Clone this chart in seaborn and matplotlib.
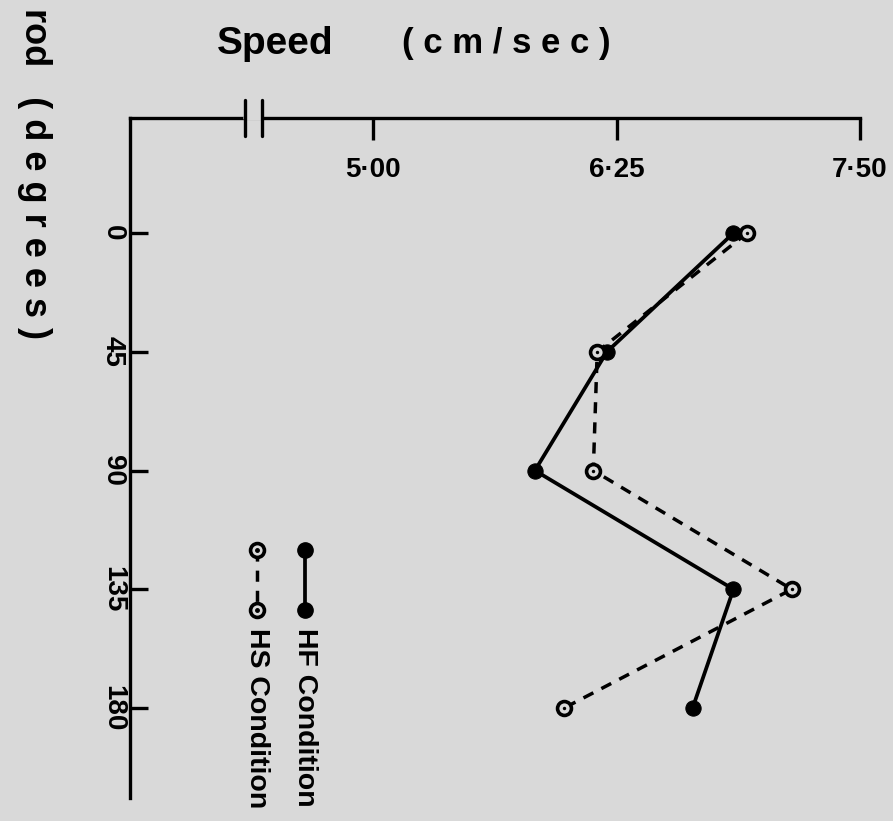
import matplotlib
matplotlib.use("Agg")
import matplotlib.pyplot as plt
import matplotlib.transforms as mtransforms
import seaborn as sns
import pandas as pd

# ---- data ----
angles = [0, 45, 90, 135, 180]
hf_speed = [6.85, 6.20, 5.83, 6.85, 6.64]
hs_speed = [6.92, 6.15, 6.13, 7.15, 5.98]
x_ticks = [5.00, 6.25, 7.50]
x_ticklabels = ["5·00", "6·25", "7·50"]
y_ticklabels = ["0", "45", "90", "135", "180"]
series_names = ["HF Condition", "HS Condition"]

BG = "#d9d9d9"
W, H = 893, 821

sns.set_style("white", {"axes.facecolor": BG, "figure.facecolor": BG})
plt.rcParams["font.family"] = ["Liberation Sans", "DejaVu Sans"]
plt.rcParams["font.weight"] = "bold"
plt.rcParams["text.color"] = "black"
plt.rcParams["xtick.color"] = "black"
plt.rcParams["ytick.color"] = "black"
plt.rcParams["xtick.labelcolor"] = "black"
plt.rcParams["ytick.labelcolor"] = "black"

fig = plt.figure(figsize=(W / 100, H / 100), dpi=100, facecolor=BG)
ax = fig.add_axes([130 / W, 1 - 798 / H, 730 / W, 680 / H])
ax.set_facecolor(BG)

df = pd.DataFrame({
    "angle": angles * 2,
    "speed": hf_speed + hs_speed,
    "cond": [series_names[0]] * len(angles) + [series_names[1]] * len(angles),
})

hf = df[df.cond == series_names[0]]
hs = df[df.cond == series_names[1]]

sns.lineplot(data=hf, x="speed", y="angle", orient="y", sort=False, estimator=None,
             color="black", lw=2.7, marker="o", markersize=11,
             markerfacecolor="black", markeredgecolor="black", ax=ax, legend=False)
sns.lineplot(data=hs, x="speed", y="angle", orient="y", sort=False, estimator=None,
             color="black", lw=2.5, linestyle=(0, (3.2, 2.6)), marker="o", markersize=10,
             markerfacecolor=BG, markeredgecolor="black", markeredgewidth=2.6,
             ax=ax, legend=False)
sns.scatterplot(data=hs, x="speed", y="angle", color="black", s=6, ax=ax,
                legend=False, zorder=5, linewidth=0)

ax.set_xlim(3.75, 7.50)
ax.set_ylim(214.1, -43.6)

for s in ["right", "bottom"]:
    ax.spines[s].set_visible(False)
for s in ["top", "left"]:
    ax.spines[s].set_linewidth(2.4)
    ax.spines[s].set_color("black")

ax.set_xticks(x_ticks)
ax.set_xticklabels(x_ticklabels)
ax.set_yticks(angles)
ax.set_yticklabels(y_ticklabels, rotation=-90, va="center")
ax.tick_params(axis="x", top=True, bottom=False, labeltop=True, labelbottom=False,
               direction="in", length=16, width=2.4, pad=-47, labelsize=20,
               colors="black")
ax.tick_params(axis="y", left=True, right=False, direction="in", length=13,
               width=2.4, pad=3, labelsize=20, colors="black")
for lab in ax.get_xticklabels() + ax.get_yticklabels():
    lab.set_fontweight("bold")
    lab.set_color("black")
ax.set_xlabel("")
ax.set_ylabel("")

# axis break on the top spine
trans = mtransforms.blended_transform_factory(ax.transData, ax.transAxes)
ax.plot([4.345, 4.425], [1, 1], color=BG, lw=4, transform=trans, clip_on=False, zorder=6)
for xb in [4.34, 4.43]:
    ax.plot([xb, xb], [1 - 0.027, 1 + 0.027], color="black", lw=2.4,
            transform=trans, clip_on=False, zorder=7)

# legend (drawn rotated like the reference)
leg_x = [(305 - 130) / 730, (257 - 130) / 730]
y_top, y_bot = (798 - 550) / 680, (798 - 610) / 680
ax.plot([leg_x[0], leg_x[0]], [y_top, y_bot], color="black", lw=2.7, marker="o",
        markersize=11, transform=ax.transAxes, clip_on=False)
ax.plot([leg_x[1], leg_x[1]], [y_top, y_bot], color="black", lw=2.5,
        linestyle=(0, (3.2, 2.6)), marker="o", markersize=10, markerfacecolor=BG,
        markeredgewidth=2.6, transform=ax.transAxes, clip_on=False)
ax.plot([leg_x[1], leg_x[1]], [y_top, y_bot], color="black", lw=0, marker="o",
        markersize=2.5, transform=ax.transAxes, clip_on=False, zorder=5)
for lx, name in zip(leg_x, series_names):
    ax.text(lx, (798 - 628) / 680, name, rotation=-90, ha="center", va="top",
            fontsize=20.5, fontweight="bold", color="black", transform=ax.transAxes)

# axis titles
fig.text(217 / W, 1 - 44 / H, "Speed", fontsize=28, fontweight="bold",
         ha="left", va="center", color="black")
fig.text(506 / W, 1 - 44 / H, "( c m / s e c )", fontsize=25, fontweight="bold",
         ha="center", va="center", color="black")
fig.text(34 / W, 1 - 8 / H, "rod   ( d e g r e e s )", fontsize=26, fontweight="bold",
         rotation=-90, ha="center", va="top", color="black")

fig.savefig("out.png", dpi=100, facecolor=BG)
